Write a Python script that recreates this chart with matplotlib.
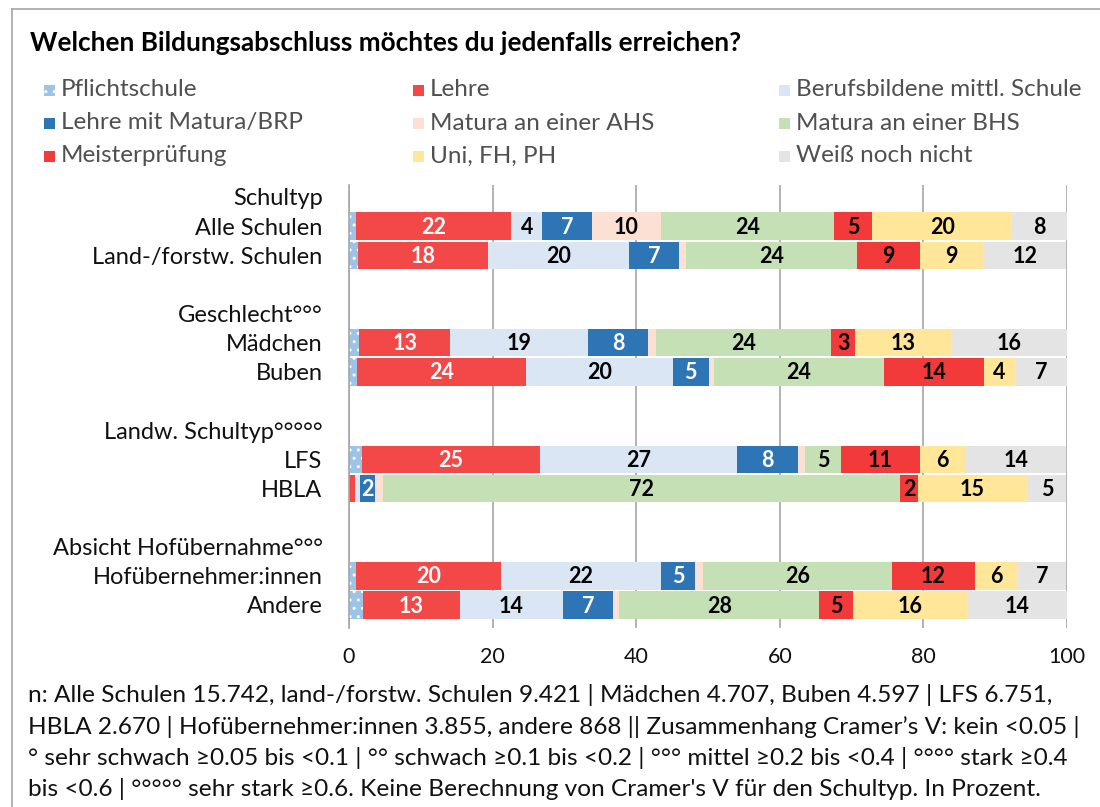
import matplotlib
matplotlib.use("Agg")
import matplotlib.pyplot as plt
from matplotlib.patches import Rectangle
from matplotlib.lines import Line2D

plt.rcParams['font.family'] = ['Lato', 'DejaVu Sans']

title = "Welchen Bildungsabschluss möchtes du jedenfalls erreichen?"

categories = ["Pflichtschule", "Lehre", "Berufsbildene mittl. Schule",
              "Lehre mit Matura/BRP", "Matura an einer AHS", "Matura an einer BHS",
              "Meisterprüfung", "Uni, FH, PH", "Weiß noch nicht"]

# y-axis slots (headers have no bars)
slot_labels = ["Schultyp", "Alle Schulen", "Land-/forstw. Schulen", "",
               "Geschlecht°°°", "Mädchen", "Buben", "",
               "Landw. Schultyp°°°°°", "LFS", "HBLA", "",
               "Absicht Hofübernahme°°°", "Hofübernehmer:innen", "Andere"]
rows = ["Alle Schulen", "Land-/forstw. Schulen", "Mädchen", "Buben",
        "LFS", "HBLA", "Hofübernehmer:innen", "Andere"]

pflicht = [1.0, 1.3, 1.4, 1.1, 1.8, 0.0, 1.0, 2.0]
lehre   = [21.6, 18.0, 12.7, 23.6, 24.8, 0.9, 20.2, 13.4]
bms     = [4.3, 19.7, 19.2, 20.4, 27.4, 0.6, 22.2, 14.4]
lmm     = [6.9, 6.9, 8.4, 5.0, 8.5, 2.1, 4.8, 7.0]
ahs     = [9.6, 1.1, 1.1, 0.7, 1.0, 1.2, 1.1, 0.8]
bhs     = [24.2, 23.8, 24.4, 23.7, 5.0, 72.0, 26.3, 27.9]
meister = [5.2, 8.7, 3.3, 13.9, 11.0, 2.4, 11.6, 4.7]
uni     = [19.6, 8.8, 13.3, 4.4, 6.4, 15.3, 6.0, 15.9]
weiss   = [7.6, 11.6, 16.2, 7.2, 13.9, 5.4, 6.7, 13.9]

series = [pflicht, lehre, bms, lmm, ahs, bhs, meister, uni, weiss]
colors = ["#9DC3E6", "#F24848", "#DAE6F4", "#2E75B6", "#FBE0D3",
          "#C6E0B5", "#F23A3A", "#FFE699", "#E4E4E4"]
text_colors = ["black", "white", "black", "white", "black", "black", "black", "black", "black"]
labeled = [False, True, True, True, True, True, True, True, True]

footnote = [
    "n: Alle Schulen 15.742, land-/forstw. Schulen 9.421 | Mädchen 4.707, Buben 4.597 | LFS 6.751,",
    "HBLA 2.670 | Hofübernehmer:innen 3.855, andere 868 || Zusammenhang Cramer’s V: kein <0.05 |",
    "° sehr schwach ≥0.05 bis <0.1 | °° schwach ≥0.1 bis <0.2 | °°° mittel ≥0.2 bis <0.4 | °°°° stark ≥0.4",
    "bis <0.6 | °°°°° sehr stark ≥0.6. Keine Berechnung von Cramer's V für den Schultyp. In Prozent.",
]

W, H = 1100, 807
fig = plt.figure(figsize=(W / 100, H / 100), dpi=100)

# frame
fig.add_artist(Line2D([12 / W, 12 / W], [0, 1 - 9 / H], color="#A6A6A6", lw=1.2))
fig.add_artist(Line2D([12 / W, 1], [1 - 9 / H, 1 - 9 / H], color="#A6A6A6", lw=1.2))

ax_left, ax_right = 349 / W, 1067 / W
ax_top, ax_bot = 185 / H, 628 / H
ax = fig.add_axes([ax_left, 1 - ax_bot, ax_right - ax_left, ax_bot - ax_top])

slot_of_row = [slot_labels.index(r) for r in rows]
left = [0.0] * len(rows)
for s, vals in enumerate(series):
    hatch = ".." if s == 0 else None
    ax.barh(slot_of_row, vals, left=left, height=0.94, color=colors[s],
            edgecolor="white" if s == 0 else "none", linewidth=0,
            hatch=hatch, zorder=2)
    if labeled[s]:
        for y, v, l0 in zip(slot_of_row, vals, left):
            if v >= 1.5:
                ax.text(l0 + v / 2, y + 0.04, f"{v:.0f}", ha="center", va="center",
                        fontsize=15.5, fontweight="bold", color=text_colors[s], zorder=3)
    left = [a + b for a, b in zip(left, vals)]

ax.set_xlim(0, 100)
ax.set_ylim(14 + 0.79, -0.41)
ax.set_xticks([0, 20, 40, 60, 80, 100])
ax.set_yticks(range(len(slot_labels)))
ax.set_yticklabels(slot_labels, fontsize=17, color="#111111")
ax.tick_params(axis="x", labelsize=15.5, colors="#111111", length=0, pad=14)
ax.tick_params(axis="y", length=0, pad=19)
ax.grid(axis="x", color="#A6A6A6", lw=1.2, zorder=0)
for sp in ["top", "right", "bottom"]:
    ax.spines[sp].set_visible(False)
ax.spines["left"].set_color("#A6A6A6")
ax.spines["left"].set_linewidth(1.2)

# title
fig.text(30 / W, 1 - 43 / H, title, fontsize=18.8, fontweight="bold", va="center", ha="left")

# legend (row-major, 3 columns)
col_x = [44, 413, 779]
row_y = [90, 123, 156]
sq = 11
for i, cat in enumerate(categories):
    c, r = i % 3, i // 3
    x, y = col_x[c], row_y[r]
    fig.add_artist(Rectangle((x / W, 1 - (y + sq / 2) / H), sq / W, sq / H,
                             facecolor=colors[i], edgecolor="white" if i == 0 else "none",
                             lw=0, hatch=".." if i == 0 else None,
                             transform=fig.transFigure))
    fig.text((x + sq + 6) / W, 1 - y / H, cat, fontsize=17.5, va="center", ha="left",
             color="#505050")

# footnote
for k, line in enumerate(footnote):
    fig.text(28 / W, 1 - (695 + 31.5 * k) / H, line, fontsize=17.6, va="center", ha="left",
             color="#111111")

fig.savefig("out.png", dpi=100)
